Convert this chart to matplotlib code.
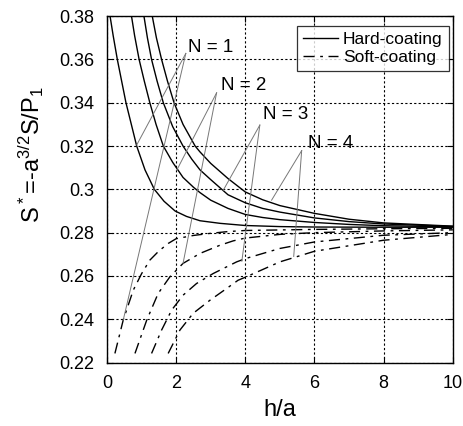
"""Indentation stiffness S* versus h/a for hard and soft coatings."""
import matplotlib
matplotlib.use("Agg")
import matplotlib.pyplot as plt

plt.rcParams["font.family"] = ["Liberation Sans", "DejaVu Sans"]
plt.rcParams["mathtext.default"] = "regular"

# hard-coating (solid), N = 1..4
hard_x = [
    [0.09, 0.18, 0.3, 0.55, 0.86, 1.1, 1.37, 1.65, 1.97, 2.3, 2.69, 3.27, 4, 5, 6, 8, 10],
    [0.71, 0.8, 0.93, 1.08, 1.24, 1.42, 1.63, 1.9, 2.2, 2.5, 2.69, 3.0, 3.5, 4, 4.5, 5, 6, 7, 8, 10],
    [1.07, 1.17, 1.29, 1.45, 1.63, 1.9, 2.2, 2.45, 2.69, 3.0, 3.5, 4, 4.5, 5, 6, 7, 8, 10],
    [1.31, 1.43, 1.58, 1.75, 1.94, 2.2, 2.55, 2.69, 3.0, 3.5, 4, 4.5, 5, 6, 7, 8, 10],
]
hard_y = [
    [0.38, 0.371, 0.36, 0.34, 0.32, 0.309, 0.30, 0.2945, 0.29, 0.2875, 0.2855, 0.2843, 0.2833, 0.2828, 0.2826, 0.2825, 0.2825],
    [0.38, 0.371, 0.36, 0.35, 0.34, 0.33, 0.32, 0.3125, 0.3055, 0.301, 0.2985, 0.295, 0.2912, 0.2884, 0.2870, 0.286, 0.2847, 0.2838, 0.2832, 0.2827],
    [0.38, 0.37, 0.36, 0.35, 0.34, 0.329, 0.32, 0.314, 0.309, 0.3045, 0.2975, 0.2938, 0.2912, 0.2895, 0.2868, 0.2851, 0.284, 0.2829],
    [0.38, 0.37, 0.36, 0.35, 0.34, 0.33, 0.32, 0.3173, 0.312, 0.305, 0.2988, 0.2952, 0.2925, 0.2889, 0.2862, 0.2845, 0.283],
]

# soft-coating (dash-dot), N = 1..4
soft_x = [
    [0.23, 0.47, 0.76, 1.0, 1.24, 1.5, 1.77, 2.0, 2.5, 3, 3.5, 4, 6, 8, 10],
    [0.81, 1.15, 1.48, 1.82, 2.2, 2.69, 3.27, 3.65, 4, 5, 6, 8, 10],
    [1.29, 1.58, 1.87, 2.2, 2.59, 3.07, 3.75, 4, 5, 6, 8, 10],
    [1.77, 2.11, 2.49, 2.98, 3.46, 3.79, 4, 5, 6, 8, 10],
]
soft_y = [
    [0.2242, 0.2396, 0.2534, 0.261, 0.2673, 0.2715, 0.275, 0.2772, 0.2787, 0.2797, 0.2805, 0.281, 0.2815, 0.2818, 0.282],
    [0.2242, 0.2396, 0.2519, 0.2596, 0.2658, 0.2704, 0.2742, 0.2762, 0.2775, 0.2792, 0.28, 0.2808, 0.2813],
    [0.2242, 0.235, 0.2442, 0.2511, 0.2565, 0.2611, 0.2665, 0.268, 0.2727, 0.2757, 0.2788, 0.28],
    [0.2242, 0.235, 0.2427, 0.2488, 0.2542, 0.258, 0.2594, 0.2665, 0.2714, 0.2765, 0.2792],
]

# "N = k" labels with their leader lines
label_text = ["N = 1", "N = 2", "N = 3", "N = 4"]
label_pos = [(2.34, 0.3634), (3.31, 0.3458), (4.51, 0.3324), (5.81, 0.319)]
leader_start = [(2.28, 0.3628), (3.17, 0.3446), (4.42, 0.3297), (5.63, 0.3179)]
leader_hard_end = [(0.86, 0.3205), (2.02, 0.3089), (3.36, 0.2995), (4.76, 0.295)]
leader_soft_end = [(0.47, 0.2396), (2.2, 0.2658), (3.9, 0.2668), (5.4, 0.269)]

xticks = [0, 2, 4, 6, 8, 10]
yticks = [0.22, 0.24, 0.26, 0.28, 0.30, 0.32, 0.34, 0.36, 0.38]
ytick_labels = ["0.22", "0.24", "0.26", "0.28", "0.3", "0.32", "0.34", "0.36", "0.38"]

fig = plt.figure(figsize=(4.63, 4.26), dpi=100)
ax = fig.add_axes([0.231, 0.149, 0.747, 0.813])

soft_style = (0, (8, 4, 2, 4))
for i in range(4):
    ax.plot(hard_x[i], hard_y[i], color="black", lw=1.0,
            label="Hard-coating" if i == 0 else None)
for i in range(4):
    ax.plot(soft_x[i], soft_y[i], color="black", lw=1.0, linestyle=soft_style,
            label="Soft-coating" if i == 0 else None)

for i in range(4):
    for end in (leader_hard_end[i], leader_soft_end[i]):
        ax.plot([leader_start[i][0], end[0]], [leader_start[i][1], end[1]],
                color="#777777", lw=0.7)
    ax.text(label_pos[i][0], label_pos[i][1], label_text[i], fontsize=13.5,
            ha="left", va="baseline")

ax.set_xlim(0, 10)
ax.set_ylim(0.22, 0.38)
ax.set_xticks(xticks)
ax.set_yticks(yticks)
ax.set_yticklabels(ytick_labels)
ax.tick_params(direction="in", top=True, right=True, labelsize=13, pad=9,
               length=4)
ax.grid(True, linestyle=(0, (2, 2)), color="black", lw=0.8)
for s in ax.spines.values():
    s.set_linewidth(1.0)

ax.set_xlabel("h/a", fontsize=17, labelpad=5)
ax.set_ylabel(r"S$^*$=-a$^{3/2}$S/P$_1$", fontsize=17)
ax.yaxis.set_label_coords(-0.175, 0.60)

leg = ax.legend(loc="upper right", bbox_to_anchor=(0.988, 0.971), fontsize=12.5,
                frameon=True, fancybox=False, edgecolor="black",
                handlelength=2.0, handletextpad=0.3, borderpad=0.35,
                labelspacing=0.15, borderaxespad=0.0)
leg.get_frame().set_linewidth(0.9)

fig.savefig("out.png", dpi=100)
